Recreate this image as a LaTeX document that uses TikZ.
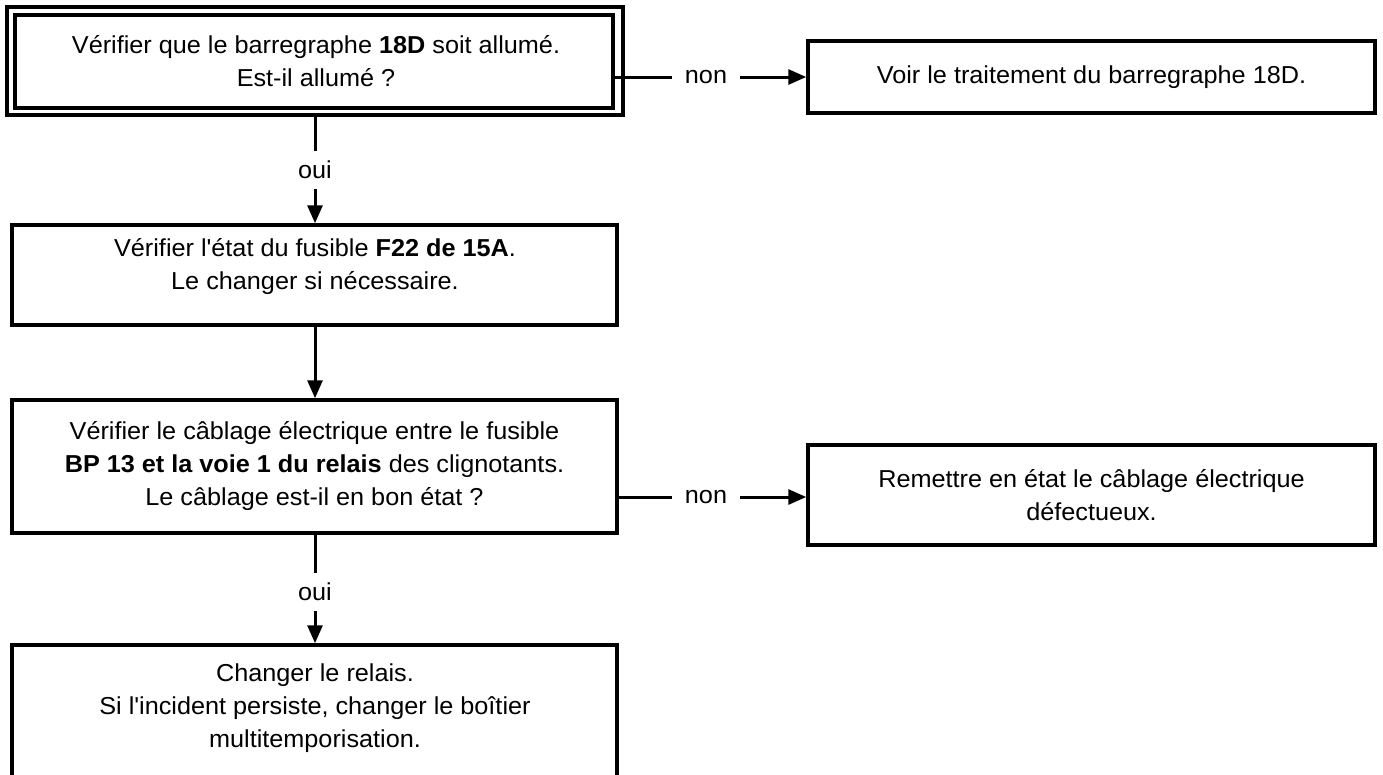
\documentclass[tikz,border=0pt]{standalone}
\usepackage{fontspec}
\newfontfamily\arialfont{Liberation Sans}[FakeStretch=1.03]
\usetikzlibrary{arrows.meta,calc}
\tikzset{
  boxline/.style={draw, line width=3.5pt, inner sep=0pt},
  txt/.style={align=center, inner sep=0pt, font=\arialfont\fontsize{24.5}{33}\selectfont},
  lbl/.style={inner sep=0pt, font=\arialfont\fontsize{24.5}{28}\selectfont},
  conn/.style={line width=3pt},
  arr/.style={conn, -{Triangle[width=15pt,length=18pt]}},
}
\begin{document}
\begin{tikzpicture}[x=1pt,y=-1pt]
\useasboundingbox (0,0) rectangle (1383,774);
\clip (0,0) rectangle (1383,774);
% box 1 (double frame)
\node[boxline, minimum width=598pt, minimum height=93pt] (b1) at (314,61.5) {};
\node[boxline, minimum width=616pt, minimum height=108pt] (b1o) at (315,61) {};
\node[txt] (t1) at (316,61) {Vérifier que le barregraphe \textbf{18D} soit allumé.\\Est-il allumé ?};
% right box 1
\node[boxline, txt, minimum width=567pt, minimum height=72pt] (b2) at (1091.5,77) {Voir le traitement du barregraphe 18D.};
\node[lbl, minimum width=68pt] (n1) at (706,77) {non};
\draw[conn] (b1.east |- n1.west) -- (n1.west);
\draw[arr] (n1.east) -- (b2.west |- n1.east);
% oui 1
\node[lbl, minimum height=38pt] (o1) at (315,170) {oui};
\draw[conn] (o1 |- b1o.south) -- (o1.north);
% box 3
\node[boxline, minimum width=605pt, minimum height=100pt] (b3) at (314.5,275) {};
\node[txt] (t3) at (315,267) {Vérifier l'état du fusible \textbf{F22 de 15A}.\\Le changer si nécessaire.};
\draw[arr] (o1.south) -- (o1.south |- b3.north);
% box 4
\node[boxline, txt, minimum width=605pt, minimum height=133pt] (b4) at (314.5,466.5) {Vérifier le câblage électrique entre le fusible\\\textbf{BP 13 et la voie 1 du relais} des clignotants.\\Le câblage est-il en bon état ?};
\draw[arr] (b3.south -| o1) -- (b4.north -| o1);
% right box 2
\node[lbl, minimum width=68pt] (n2) at (706,497) {non};
\draw[conn] (b4.east |- n2.west) -- (n2.west);
\node[boxline, txt, minimum width=567pt, minimum height=100pt] (b5) at (1091.5,495) {Remettre en état le câblage électrique\\défectueux.};
\draw[arr] (n2.east) -- (b5.west |- n2.east);
% oui 2
\node[lbl, minimum height=38pt] (o2) at (315,592) {oui};
\draw[conn] (b4.south -| o2) -- (o2.north);
% box 6
\node[boxline, minimum width=605pt, minimum height=165pt] (b6) at (314.5,727.5) {};
\node[txt] (t6) at (315,708) {Changer le relais.\\Si l'incident persiste, changer le boîtier\\multitemporisation.};
\draw[arr] (o2.south) -- (b6.north -| o2);
\end{tikzpicture}
\end{document}
